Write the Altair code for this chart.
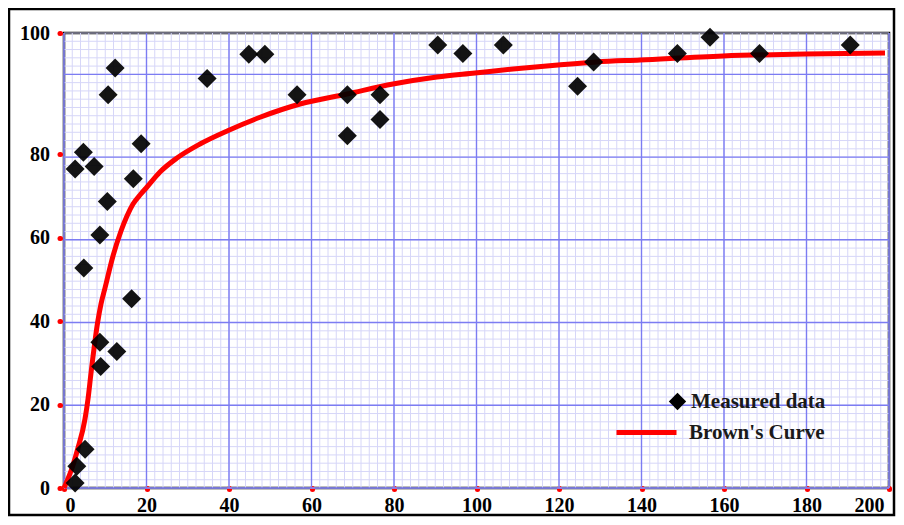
import altair as alt
import pandas as pd

pts_x = [2.7, 3.1, 5.1, 4.8, 4.7, 2.7, 7.3, 8.7, 8.7, 8.9, 10.5, 10.7, 12.4, 12.8, 16.4, 16.8, 18.7,
         34.7, 44.8, 48.7, 56.5, 68.7, 68.7, 76.6, 76.6, 90.6, 96.7, 106.5, 124.5, 128.4, 148.7,
         156.6, 168.6, 190.6]
pts_y = [1.2, 5.2, 9.3, 52.7, 80.3, 76.4, 77.0, 60.6, 34.9, 29.1, 68.6, 89.8, 94.2, 32.7, 45.3, 74.1, 81.7,
         92.5, 96.5, 96.5, 89.8, 89.8, 83.0, 89.8, 85.7, 98.0, 96.6, 98.0, 91.2, 95.2, 96.6,
         99.3, 96.6, 98.0]

# Brown's curve
curve_x = [0, 0.24, 1.87, 3.32, 5.09, 5.82, 6.55, 8.17, 8.97, 9.94, 11.88, 13.82, 15.27, 16.73, 18.42,
           20.12, 23.27, 27.3, 32.97, 39.68, 47.52, 57.21, 68.61, 79.76, 90.42, 99.64, 108.85,
           119.76, 129.21, 139.64, 159.76, 179.88, 199.03]
curve_y = [0, 0.55, 4.55, 9.34, 16.53, 21.32, 27.54, 39.76, 44.07, 47.90, 55.57, 61.56, 65.15, 68.02, 70.18,
           72.10, 75.69, 78.97, 81.65, 83.85, 86.07, 88.26, 89.92, 91.57, 92.73, 93.39, 94.05,
           94.71, 95.21, 95.54, 96.20, 96.53, 96.69]

x_ticks = [0, 20, 40, 60, 80, 100, 120, 140, 160, 180, 200]
y_ticks = [0, 20, 40, 60, 80, 100]

# graph-paper grid (grid units)
grid_x_minor = list(range(0, 201, 2))
grid_x_major = list(range(0, 201, 20))
grid_y_minor = list(range(0, 111, 2))
grid_y_major = list(range(0, 101, 20))

W, H = 825, 455
FONT = "Liberation Serif"
MAJOR = "#7c7cf2"
MINOR = "#d6d6f8"

pts = pd.DataFrame({"x": pts_x, "y": pts_y, "series": "Measured data"})
crv = pd.DataFrame({"x": curve_x, "y": curve_y, "series": "Brown's Curve"})

xscale = alt.Scale(domain=[0, 200], nice=False, zero=False)
gyscale = alt.Scale(domain=[0, 110], nice=False, zero=False)
yscale = alt.Scale(domain=[0, 80, 100], range=[H, 121, 0], nice=False, zero=False)

xaxis = alt.Axis(values=x_ticks, title=None, grid=False, domain=False,
                 labelFont=FONT, labelFontSize=20, labelFontWeight="bold", labelColor="black",
                 tickColor="red", tickSize=1, tickWidth=5, tickCap="round", labelPadding=6,
                 labelOffset={"condition": [{"test": "datum.value === 0", "value": 1},
                                            {"test": "datum.value === 200", "value": -5}],
                              "value": 0})
yaxis = alt.Axis(values=y_ticks, title=None, grid=False, domain=False, orient="left", offset=4,
                 labelFont=FONT, labelFontSize=20, labelFontWeight="bold", labelColor="black",
                 tickColor="red", tickSize=0.5, tickWidth=5, tickCap="round", labelPadding=10)

vmin = alt.Chart(pd.DataFrame({"g": grid_x_minor})).mark_rule(color=MINOR, strokeWidth=1).encode(
    x=alt.X("g:Q", scale=xscale, axis=xaxis))
hmin = alt.Chart(pd.DataFrame({"g": grid_y_minor})).mark_rule(color=MINOR, strokeWidth=1).encode(
    y=alt.Y("g:Q", scale=gyscale, axis=None))
vmaj = alt.Chart(pd.DataFrame({"g": grid_x_major})).mark_rule(color=MAJOR, strokeWidth=1.4).encode(
    x=alt.X("g:Q", scale=xscale, axis=xaxis))
hmaj = alt.Chart(pd.DataFrame({"g": grid_y_major})).mark_rule(color=MAJOR, strokeWidth=1.4).encode(
    y=alt.Y("g:Q", scale=gyscale, axis=None))

curve = alt.Chart(crv).mark_line(strokeWidth=5, interpolate="monotone").encode(
    x=alt.X("x:Q", scale=xscale, axis=xaxis),
    y=alt.Y("y:Q", scale=yscale, axis=None),
    color=alt.Color("series:N", scale=alt.Scale(domain=["Brown's Curve"], range=["#ff0000"]),
                    legend=alt.Legend(orient="none", legendX=550, legendY=367, title=None, padding=0,
                                      symbolType="stroke", symbolSize=3600, symbolStrokeWidth=5,
                                      labelOffset=10, labelFont=FONT, labelFontSize=21,
                                      labelFontWeight="bold", labelColor="#1a1a1a")))

points = alt.Chart(pts).mark_point(filled=True, size=361, opacity=0.92, color="black").encode(
    x=alt.X("x:Q", scale=xscale, axis=xaxis),
    y=alt.Y("y:Q", scale=yscale, axis=yaxis),
    shape=alt.Shape("series:N", scale=alt.Scale(domain=["Measured data"], range=["diamond"]),
                    legend=alt.Legend(orient="none", legendX=603, legendY=358, title=None, padding=0,
                                      symbolSize=300, symbolFillColor="black", symbolStrokeWidth=0,
                                      symbolOpacity=1, labelOffset=3, labelFont=FONT, labelFontSize=21,
                                      labelFontWeight="bold", labelColor="#1a1a1a")))

frame = alt.Chart(pd.DataFrame({"a": [0]})).mark_rect(fillOpacity=0, stroke="black", strokeWidth=2.5).encode(
    x=alt.value(-55), x2=alt.value(830), y=alt.value(-24), y2=alt.value(482))

chart = alt.layer(vmin, hmin, vmaj, hmaj, curve, points, frame).resolve_scale(
    y="independent"
).properties(
    width=W, height=H,
    padding={"left": 56, "top": 25, "right": 7, "bottom": 29},
    autosize=alt.AutoSizeParams(type="none"),
    background="white",
).configure_view(stroke="black", strokeWidth=2.5)

chart.save("out.html", embed_options={"renderer": "svg", "actions": False})
